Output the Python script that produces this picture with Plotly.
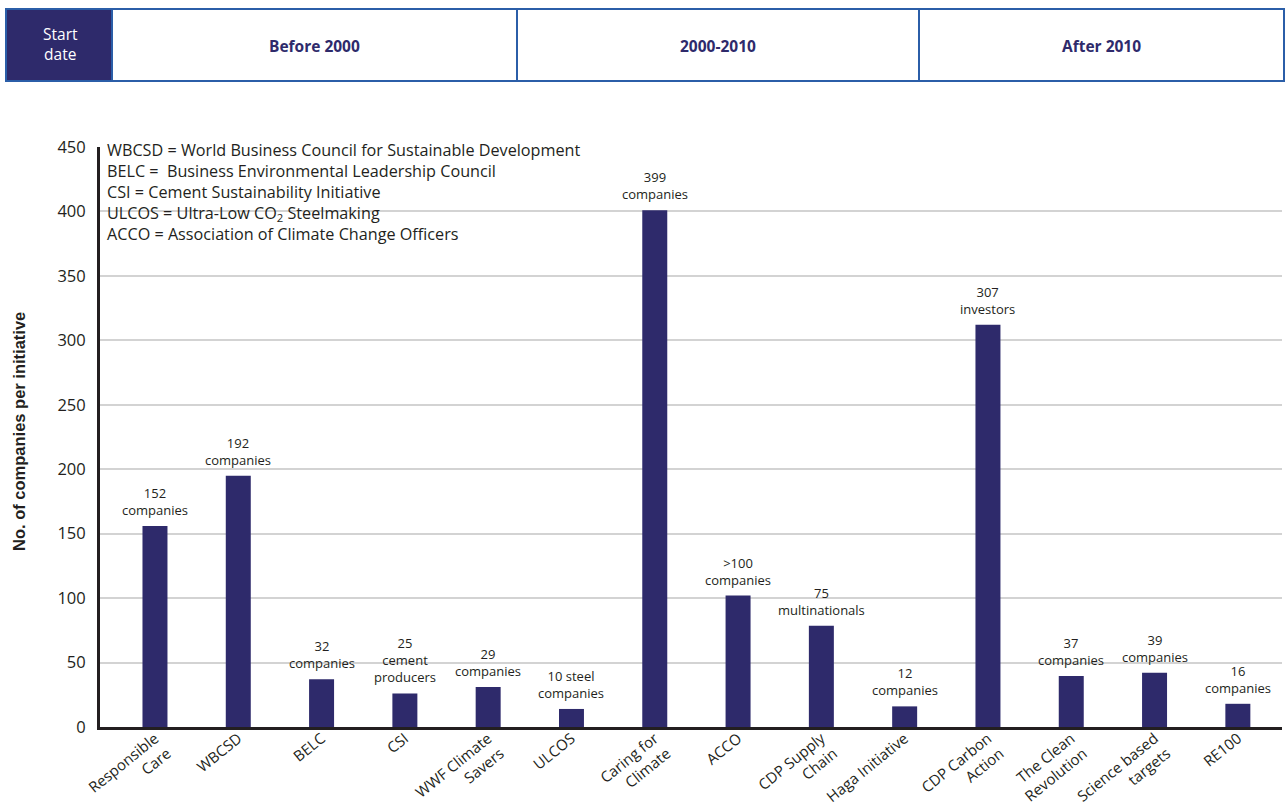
import plotly.graph_objects as go

categories = ["Responsible<br>Care", "WBCSD", "BELC", "CSI", "WWF Climate<br>Savers", "ULCOS",
              "Caring for<br>Climate", "ACCO", "CDP Supply<br>Chain", "Haga Initiative",
              "CDP Carbon<br>Action", "The Clean<br>Revolution", "Science based<br>targets", "RE100"]
values = [156, 195, 37, 26, 31, 14, 401, 102, 78.5, 16, 312, 39.5, 42, 18]
bar_labels = ["152<br>companies", "192<br>companies", "32<br>companies", "25<br>cement<br>producers",
              "29<br>companies", "10 steel<br>companies", "399<br>companies", ">100<br>companies",
              "75<br>multinationals", "12<br>companies", "307<br>investors", "37<br>companies",
              "39<br>companies", "16<br>companies"]
y_ticks = [0, 50, 100, 150, 200, 250, 300, 350, 400, 450]
periods = ["Before 2000", "2000-2010", "After 2010"]
legend_lines = ["WBCSD = World Business Council for Sustainable Development",
                "BELC =  Business Environmental Leadership Council",
                "CSI = Cement Sustainability Initiative",
                "ULCOS = Ultra-Low CO<sub>2</sub> Steelmaking",
                "ACCO = Association of Climate Change Officers"]

NAVY = "#2e2a6b"
TXT = "#231f20"
BLUE = "#2b5ea8"
FONT = "Open Sans"

W, H = 1288, 808
L, R, T, B = 100, 6, 147, 81
pw, ph = W - L - R, H - T - B

def px(x):
    return (x - L) / pw

def py(y):
    return (H - B - y) / ph

fig = go.Figure()
fig.add_trace(go.Bar(x=list(range(len(categories))), y=values, width=0.3,
                     marker=dict(color=NAVY, line=dict(width=0)), hoverinfo="skip"))

for i, (v, lab) in enumerate(zip(values, bar_labels)):
    fig.add_annotation(x=i, y=v, xref="x", yref="y", text=lab, showarrow=False,
                       yanchor="bottom", yshift=5, font=dict(family=FONT, size=13, color=TXT))

# white box behind the abbreviation list (covers gridlines, below bars)
fig.add_shape(type="rect", xref="paper", yref="paper", x0=px(103), x1=px(606), y0=py(252), y1=py(140),
              fillcolor="white", line=dict(width=0), layer="between")
for k, line in enumerate(legend_lines):
    fig.add_annotation(x=px(106), y=py(150 + 21 * k), xref="paper", yref="paper",
                       xanchor="left", yanchor="middle", text=line, align="left", showarrow=False,
                       borderpad=0, font=dict(family=FONT, size=16.2, color=TXT))

# y-axis title
fig.add_annotation(x=px(19), y=py(432), xref="paper", yref="paper", xanchor="center", yanchor="middle",
                   text="<b>No. of companies per initiative</b>",
                   textangle=-90, showarrow=False,
                   font=dict(family="Liberation Sans", size=16.5, color=TXT))

# header table
cells = [(6, 112), (112, 517), (517, 919), (919, 1284)]
ytop, ybot = 9, 81
fig.add_shape(type="rect", xref="paper", yref="paper", x0=px(6), x1=px(112), y0=py(ybot), y1=py(ytop),
              fillcolor=NAVY, line=dict(color=BLUE, width=2), layer="above")
for (a, b) in cells[1:]:
    fig.add_shape(type="rect", xref="paper", yref="paper", x0=px(a), x1=px(b), y0=py(ybot), y1=py(ytop),
                  fillcolor="rgba(0,0,0,0)", line=dict(color=BLUE, width=2), layer="above")
fig.add_annotation(x=px(60), y=py(44), xref="paper", yref="paper", xanchor="center", yanchor="middle",
                   text="Start<br>date", showarrow=False,
                   font=dict(family=FONT, size=15.5, color="white"))
for (a, b), p in zip(cells[1:], periods):
    fig.add_annotation(x=px((a + b) / 2), y=py(46), xref="paper", yref="paper",
                       xanchor="center", yanchor="middle", text=f"<b>{p}</b>",
                       showarrow=False, font=dict(family=FONT, size=15.5, color=NAVY))

fig.update_layout(
    width=W, height=H, margin=dict(l=L, r=R, t=T, b=B, autoexpand=False),
    paper_bgcolor="white", plot_bgcolor="white", showlegend=False,
    xaxis=dict(tickmode="array", tickvals=list(range(len(categories))), ticktext=categories,
               range=[-0.66, 13.53], tickangle=-39, showgrid=False, zeroline=False,
               showline=True, linecolor="#231f20", linewidth=3, ticks="",
               tickfont=dict(family=FONT, size=15, color=TXT), automargin=False,
               ticklabelstandoff=-6),
    yaxis=dict(range=[0, 450], tickvals=y_ticks, showgrid=True, gridcolor="#d3d3d3", gridwidth=2,
               zeroline=False, showline=True, linecolor="#231f20", linewidth=3, ticks="",
               tickfont=dict(family=FONT, size=16.5, color=TXT), automargin=False, ticklabelstandoff=8),
)

fig.write_html("out.html")
